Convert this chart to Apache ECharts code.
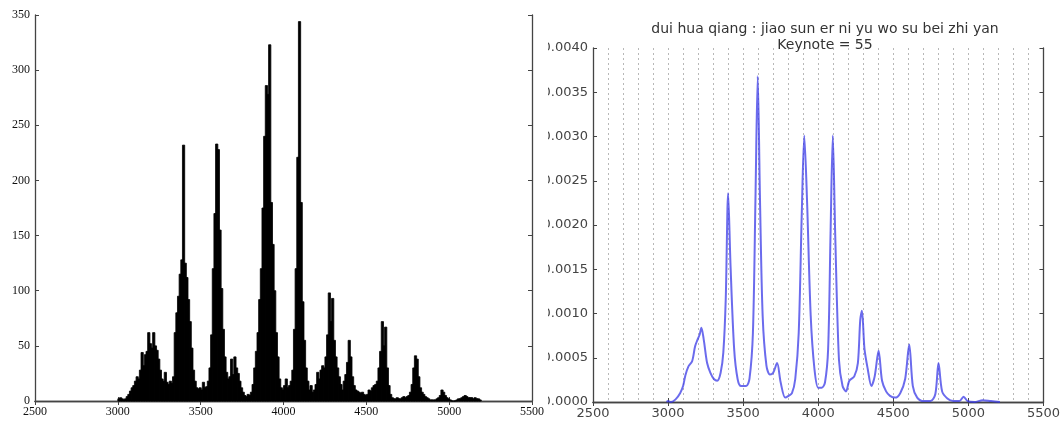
<!DOCTYPE html>
<html>
<head>
<meta charset="utf-8">
<script src="https://cdn.jsdelivr.net/npm/echarts@6/dist/echarts.min.js"></script>
<style>
html,body{margin:0;padding:0;background:#fff;}
#chart{width:1063px;height:423px;}
</style>
</head>
<body>
<div id="chart"></div>
<script>
// ---- Left panel: histogram (bins of 10 starting at 3000) ----
var histBinStart = 3000;
var histBinWidth = 10;
var histCounts = [
  2, 3, 2, 1, 2, 4, 6, 9, 12, 14,
  18, 22, 20, 28, 44, 32, 42, 45, 62, 52,
  48, 62, 50, 46, 38, 28, 20, 18, 26, 17,
  15, 18, 16, 22, 62, 80, 95, 115, 128, 232,
  125, 112, 92, 72, 48, 28, 18, 12, 11, 12,
  10, 17, 12, 13, 18, 30, 60, 120, 170, 233,
  228, 155, 102, 65, 40, 26, 20, 22, 38, 24,
  40, 30, 25, 18, 12, 8, 5, 4, 6, 5,
  8, 15, 30, 45, 62, 92, 120, 175, 240, 286,
  278, 323, 180, 142, 100, 62, 40, 20, 12, 10,
  14, 20, 12, 14, 18, 28, 65, 120, 221, 344,
  180, 90, 55, 30, 18, 10, 14, 8, 10, 15,
  26, 20, 28, 32, 30, 40, 60, 98, 72, 93,
  55, 40, 30, 22, 15, 10, 18, 24, 35, 55,
  40, 22, 14, 10, 9, 8, 7, 8, 6, 5,
  6, 10, 9, 12, 14, 15, 18, 30, 45, 72,
  50, 67, 30, 14, 6, 3, 2, 2, 3, 2,
  2, 3, 4, 3, 4, 5, 8, 15, 30, 41,
  38, 22, 12, 8, 6, 4, 3, 2, 1, 1,
  1, 1, 2, 3, 5, 10, 8, 5, 3, 2,
  1, 0, 0, 0, 1, 2, 2, 3, 4, 5,
  4, 3, 3, 3, 2, 3, 2, 2, 1
];
var leftXTicks = [2500, 5500, 500];
var leftYTicks = [0, 350, 50];

// ---- Right panel: density curve ----
var kdeX = [2990, 3000, 3020, 3050, 3080, 3100, 3115, 3135, 3160, 3180, 3195, 3210, 3222, 3238, 3260, 3282, 3305, 3327, 3350, 3368, 3384, 3400, 3416, 3440, 3463, 3486, 3520, 3542, 3565, 3582, 3597, 3612, 3630, 3655, 3678, 3700, 3726, 3750, 3780, 3802, 3825, 3847, 3870, 3890, 3907, 3925, 3950, 3975, 4000, 4023, 4045, 4066, 4082, 4097, 4113, 4138, 4162, 4185, 4207, 4240, 4264, 4280, 4291, 4308, 4330, 4354, 4376, 4402, 4425, 4452, 4478, 4512, 4546, 4579, 4606, 4630, 4659, 4703, 4748, 4780, 4801, 4825, 4860, 4900, 4940, 4968, 4995, 5040, 5096, 5150, 5210];
var kdeY = [0, 0.00001, 0, 0.00003, 0.0001, 0.00018, 0.0003, 0.0004, 0.00046, 0.00063, 0.0007, 0.00076, 0.00084, 0.0007, 0.00044, 0.00033, 0.00026, 0.00024, 0.00033, 0.00056, 0.00116, 0.00236, 0.00154, 0.0006, 0.00026, 0.00018, 0.00018, 0.00026, 0.00078, 0.0023, 0.00368, 0.0023, 0.00097, 0.00041, 0.00031, 0.00033, 0.00044, 0.00022, 0.00005, 0.00007, 0.0001, 0.00026, 0.00078, 0.0021, 0.00301, 0.0023, 0.00097, 0.00037, 0.00016, 0.00016, 0.00022, 0.0006, 0.0019, 0.00301, 0.0019, 0.00048, 0.00018, 0.00012, 0.00024, 0.00029, 0.00044, 0.00093, 0.00103, 0.0006, 0.00037, 0.00018, 0.00029, 0.00058, 0.00024, 0.00012, 0.00007, 0.00005, 0.0001, 0.00026, 0.00065, 0.00018, 0.00005, 0.00001, 0.00001, 0.00009, 0.00044, 0.00012, 0.00004, 0.00001, 0.00001, 0.00006, 0.00001, 0, 0.00002, 0.00001, 0];
var rightYTicks = [0, 0.004, 0.0005];
var titleLine1 = 'dui hua qiang : jiao sun er ni yu wo su bei zhi yan';
var titleLine2 = 'Keynote = 55';

var histData = histCounts.map(function (c, i) { return [histBinStart + i * histBinWidth, c]; });
var kdeData = kdeX.map(function (x, i) { return [x, kdeY[i]]; });

var frame = { show: true, lineStyle: { color: '#444', width: 1.3 } };
var tickIn = { show: true, inside: true, length: 4, lineStyle: { color: '#444', width: 1 } };
var plain = function (v) { return String(v); };
var serifLabel = { fontFamily: 'Liberation Serif', fontSize: 12, color: '#111', formatter: plain };
var sansLabel = { fontFamily: 'DejaVu Sans', fontSize: 13, color: '#444', formatter: plain };

var chart = echarts.init(document.getElementById('chart'), null, { renderer: 'canvas' });
chart.setOption({
  animation: false,
  backgroundColor: '#fff',
  title: [
    { text: titleLine1, left: 820, top: 16, textAlign: 'center',
      textStyle: { fontFamily: 'DejaVu Sans', fontSize: 14, fontWeight: 'normal', color: '#333', lineHeight: 16 } },
    { text: titleLine2, left: 820, top: 32, textAlign: 'center',
      textStyle: { fontFamily: 'DejaVu Sans', fontSize: 14, fontWeight: 'normal', color: '#333', lineHeight: 16 } }
  ],
  grid: [
    { left: 35, top: 15, width: 497, height: 386 },
    { left: 593, top: 48, width: 454, height: 354 }
  ],
  xAxis: [
    { type: 'value', gridIndex: 0, min: leftXTicks[0], max: leftXTicks[1], interval: leftXTicks[2],
      axisLine: frame, axisTick: tickIn, splitLine: { show: false },
      axisLabel: Object.assign({ margin: 5 }, serifLabel) },
    { type: 'value', gridIndex: 0, position: 'top', min: leftXTicks[0], max: leftXTicks[1], interval: leftXTicks[2],
      axisLine: frame, axisTick: tickIn, splitLine: { show: false }, axisLabel: { show: false } },
    { type: 'value', gridIndex: 1, min: leftXTicks[0], max: leftXTicks[1], interval: leftXTicks[2],
      axisLine: frame, axisTick: tickIn,
      splitLine: { show: true, lineStyle: { type: [2, 3], color: '#b8b8b8', width: 1 } },
      minorTick: { show: false, splitNumber: 5 },
      minorSplitLine: { show: true, lineStyle: { type: [2, 3], color: '#b8b8b8', width: 1 } },
      axisLabel: Object.assign({ margin: 5 }, sansLabel) },
    { type: 'value', gridIndex: 1, position: 'top', min: leftXTicks[0], max: leftXTicks[1], interval: leftXTicks[2],
      axisLine: frame, axisTick: tickIn, splitLine: { show: false }, axisLabel: { show: false } }
  ],
  yAxis: [
    { type: 'value', gridIndex: 0, min: leftYTicks[0], max: leftYTicks[1], interval: leftYTicks[2],
      axisLine: frame, axisTick: tickIn, splitLine: { show: false },
      axisLabel: Object.assign({ margin: 5 }, serifLabel) },
    { type: 'value', gridIndex: 0, position: 'right', min: leftYTicks[0], max: leftYTicks[1], interval: leftYTicks[2],
      axisLine: frame, axisTick: tickIn, splitLine: { show: false }, axisLabel: { show: false } },
    { type: 'value', gridIndex: 1, min: rightYTicks[0], max: rightYTicks[1], interval: rightYTicks[2],
      axisLine: frame, axisTick: tickIn, splitLine: { show: false },
      axisLabel: Object.assign({}, sansLabel, { margin: 5, formatter: function (v) { return v.toFixed(4); } }) },
    { type: 'value', gridIndex: 1, position: 'right', min: rightYTicks[0], max: rightYTicks[1], interval: rightYTicks[2],
      axisLine: frame, axisTick: tickIn, splitLine: { show: false }, axisLabel: { show: false } }
  ],
  series: [
    {
      type: 'custom', xAxisIndex: 0, yAxisIndex: 0, data: histData,
      renderItem: function (params, api) {
        var x0 = api.value(0), v = api.value(1);
        var p0 = api.coord([x0, v]);
        var p1 = api.coord([x0 + histBinWidth, 0]);
        return { type: 'rect', shape: { x: p0[0], y: p0[1], width: (p1[0] - p0[0]) + 0.6, height: p1[1] - p0[1] },
                 style: { fill: '#000', stroke: '#000', lineWidth: 0.8 } };
      }
    },
    {
      type: 'line', xAxisIndex: 2, yAxisIndex: 2, data: kdeData, smooth: 0.3, showSymbol: false,
      lineStyle: { color: 'rgba(50,50,230,0.72)', width: 2 }, z: 5
    }
  ],
  graphic: [
    { type: 'rect', left: 538, top: 40, shape: { width: 10, height: 365 }, style: { fill: '#fff' }, z: 100 }
  ]
});
</script>
</body>
</html>
